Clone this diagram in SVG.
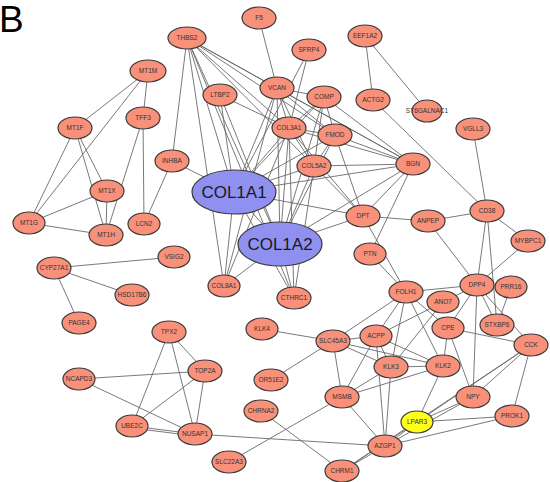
<svg xmlns="http://www.w3.org/2000/svg" width="550" height="482" viewBox="0 0 550 482">
<style>
.e line{stroke:#6a6a6a;stroke-width:0.9}
.n ellipse{fill:#F8907A;stroke:#3a3a3a;stroke-width:1.2}
.n text{font-family:"Liberation Sans",Arial,sans-serif;font-size:6.5px;fill:#333;text-anchor:middle}
.b ellipse{fill:#9090F0;stroke:#3a3a3a;stroke-width:1.2}
.b text{font-family:"Liberation Sans",Arial,sans-serif;font-size:17px;fill:#1a1a1a;text-anchor:middle}
.y ellipse{fill:#FFFF1A}
</style>
<rect width="550" height="482" fill="#fff"/>
<text x="-1" y="32" font-family="Liberation Sans,Arial,sans-serif" font-size="37" fill="#000">B</text>
<g id="connectors" class="e">
<line x1="148" y1="71" x2="75" y2="128"/>
<line x1="148" y1="71" x2="29" y2="223"/>
<line x1="148" y1="71" x2="143" y2="118"/>
<line x1="75" y1="128" x2="29" y2="223"/>
<line x1="75" y1="128" x2="107" y2="191"/>
<line x1="75" y1="128" x2="106" y2="235"/>
<line x1="143" y1="118" x2="144" y2="224"/>
<line x1="143" y1="118" x2="106" y2="235"/>
<line x1="107" y1="191" x2="29" y2="223"/>
<line x1="107" y1="191" x2="106" y2="235"/>
<line x1="29" y1="223" x2="106" y2="235"/>
<line x1="172" y1="161" x2="144" y2="224"/>
<line x1="172" y1="161" x2="187" y2="38"/>
<line x1="172" y1="161" x2="234" y2="192"/>
<line x1="54" y1="268" x2="174" y2="257"/>
<line x1="54" y1="268" x2="132" y2="295"/>
<line x1="54" y1="268" x2="79" y2="323"/>
<line x1="187" y1="38" x2="277" y2="88"/>
<line x1="187" y1="38" x2="289" y2="128"/>
<line x1="187" y1="38" x2="413" y2="164"/>
<line x1="187" y1="38" x2="335" y2="135"/>
<line x1="187" y1="38" x2="314" y2="166"/>
<line x1="187" y1="38" x2="234" y2="192"/>
<line x1="187" y1="38" x2="280" y2="244"/>
<line x1="187" y1="38" x2="294" y2="298"/>
<line x1="187" y1="38" x2="224" y2="286"/>
<line x1="259" y1="18" x2="277" y2="88"/>
<line x1="309" y1="50" x2="289" y2="128"/>
<line x1="309" y1="50" x2="234" y2="192"/>
<line x1="220" y1="95" x2="234" y2="192"/>
<line x1="220" y1="95" x2="280" y2="244"/>
<line x1="220" y1="95" x2="289" y2="128"/>
<line x1="277" y1="88" x2="289" y2="128"/>
<line x1="277" y1="88" x2="324" y2="97"/>
<line x1="277" y1="88" x2="335" y2="135"/>
<line x1="277" y1="88" x2="413" y2="164"/>
<line x1="277" y1="88" x2="314" y2="166"/>
<line x1="277" y1="88" x2="234" y2="192"/>
<line x1="277" y1="88" x2="280" y2="244"/>
<line x1="277" y1="88" x2="224" y2="286"/>
<line x1="324" y1="97" x2="289" y2="128"/>
<line x1="324" y1="97" x2="335" y2="135"/>
<line x1="324" y1="97" x2="413" y2="164"/>
<line x1="324" y1="97" x2="314" y2="166"/>
<line x1="324" y1="97" x2="234" y2="192"/>
<line x1="324" y1="97" x2="280" y2="244"/>
<line x1="289" y1="128" x2="335" y2="135"/>
<line x1="289" y1="128" x2="314" y2="166"/>
<line x1="289" y1="128" x2="413" y2="164"/>
<line x1="289" y1="128" x2="363" y2="216"/>
<line x1="289" y1="128" x2="234" y2="192"/>
<line x1="289" y1="128" x2="280" y2="244"/>
<line x1="289" y1="128" x2="294" y2="298"/>
<line x1="289" y1="128" x2="224" y2="286"/>
<line x1="335" y1="135" x2="413" y2="164"/>
<line x1="335" y1="135" x2="363" y2="216"/>
<line x1="335" y1="135" x2="314" y2="166"/>
<line x1="335" y1="135" x2="234" y2="192"/>
<line x1="335" y1="135" x2="280" y2="244"/>
<line x1="314" y1="166" x2="413" y2="164"/>
<line x1="314" y1="166" x2="363" y2="216"/>
<line x1="314" y1="166" x2="234" y2="192"/>
<line x1="314" y1="166" x2="280" y2="244"/>
<line x1="314" y1="166" x2="294" y2="298"/>
<line x1="413" y1="164" x2="363" y2="216"/>
<line x1="413" y1="164" x2="234" y2="192"/>
<line x1="413" y1="164" x2="280" y2="244"/>
<line x1="413" y1="164" x2="370" y2="254"/>
<line x1="363" y1="216" x2="234" y2="192"/>
<line x1="363" y1="216" x2="280" y2="244"/>
<line x1="363" y1="216" x2="428" y2="221"/>
<line x1="363" y1="216" x2="406" y2="292"/>
<line x1="234" y1="192" x2="280" y2="244"/>
<line x1="234" y1="192" x2="224" y2="286"/>
<line x1="234" y1="192" x2="294" y2="298"/>
<line x1="280" y1="244" x2="224" y2="286"/>
<line x1="280" y1="244" x2="294" y2="298"/>
<line x1="370" y1="254" x2="406" y2="292"/>
<line x1="365" y1="36" x2="373" y2="100"/>
<line x1="365" y1="36" x2="427" y2="111"/>
<line x1="373" y1="100" x2="487" y2="211"/>
<line x1="473" y1="129" x2="487" y2="211"/>
<line x1="487" y1="211" x2="428" y2="221"/>
<line x1="487" y1="211" x2="528" y2="241"/>
<line x1="487" y1="211" x2="477" y2="285"/>
<line x1="487" y1="211" x2="497" y2="325"/>
<line x1="428" y1="221" x2="477" y2="285"/>
<line x1="528" y1="241" x2="477" y2="285"/>
<line x1="477" y1="285" x2="406" y2="292"/>
<line x1="477" y1="285" x2="473" y2="397"/>
<line x1="477" y1="285" x2="531" y2="345"/>
<line x1="477" y1="285" x2="497" y2="325"/>
<line x1="477" y1="285" x2="448" y2="328"/>
<line x1="477" y1="285" x2="443" y2="302"/>
<line x1="511" y1="287" x2="497" y2="325"/>
<line x1="406" y1="292" x2="376" y2="336"/>
<line x1="406" y1="292" x2="391" y2="367"/>
<line x1="406" y1="292" x2="443" y2="366"/>
<line x1="406" y1="292" x2="333" y2="341"/>
<line x1="406" y1="292" x2="448" y2="328"/>
<line x1="443" y1="302" x2="391" y2="367"/>
<line x1="443" y1="302" x2="376" y2="336"/>
<line x1="448" y1="328" x2="531" y2="345"/>
<line x1="448" y1="328" x2="473" y2="397"/>
<line x1="448" y1="328" x2="443" y2="366"/>
<line x1="531" y1="345" x2="473" y2="397"/>
<line x1="531" y1="345" x2="512" y2="416"/>
<line x1="531" y1="345" x2="417" y2="422"/>
<line x1="531" y1="345" x2="342" y2="471"/>
<line x1="512" y1="416" x2="417" y2="422"/>
<line x1="512" y1="416" x2="385" y2="446"/>
<line x1="473" y1="397" x2="417" y2="422"/>
<line x1="473" y1="397" x2="385" y2="446"/>
<line x1="417" y1="422" x2="443" y2="366"/>
<line x1="417" y1="422" x2="385" y2="446"/>
<line x1="417" y1="422" x2="342" y2="471"/>
<line x1="262" y1="329" x2="333" y2="341"/>
<line x1="271" y1="380" x2="333" y2="341"/>
<line x1="333" y1="341" x2="376" y2="336"/>
<line x1="333" y1="341" x2="391" y2="367"/>
<line x1="333" y1="341" x2="443" y2="366"/>
<line x1="333" y1="341" x2="342" y2="397"/>
<line x1="376" y1="336" x2="391" y2="367"/>
<line x1="376" y1="336" x2="443" y2="366"/>
<line x1="376" y1="336" x2="342" y2="397"/>
<line x1="376" y1="336" x2="385" y2="446"/>
<line x1="391" y1="367" x2="443" y2="366"/>
<line x1="391" y1="367" x2="342" y2="397"/>
<line x1="391" y1="367" x2="385" y2="446"/>
<line x1="443" y1="366" x2="342" y2="397"/>
<line x1="342" y1="397" x2="385" y2="446"/>
<line x1="342" y1="397" x2="229" y2="462"/>
<line x1="261" y1="411" x2="342" y2="471"/>
<line x1="342" y1="471" x2="385" y2="446"/>
<line x1="169" y1="332" x2="205" y2="371"/>
<line x1="169" y1="332" x2="195" y2="434"/>
<line x1="169" y1="332" x2="132" y2="426"/>
<line x1="205" y1="371" x2="79" y2="379"/>
<line x1="205" y1="371" x2="132" y2="426"/>
<line x1="205" y1="371" x2="195" y2="434"/>
<line x1="79" y1="379" x2="195" y2="434"/>
<line x1="132" y1="426" x2="195" y2="434"/>
<line x1="132" y1="428" x2="195" y2="436"/>
<line x1="195" y1="434" x2="385" y2="446"/>
</g>
<g id="THBS2" class="n"><ellipse cx="187" cy="38" rx="19" ry="11"/><text x="187" y="40.3">THBS2</text></g>
<g id="F5" class="n"><ellipse cx="259" cy="18" rx="17" ry="11"/><text x="259" y="20.3">F5</text></g>
<g id="SFRP4" class="n"><ellipse cx="309" cy="50" rx="17" ry="11"/><text x="309" y="52.3">SFRP4</text></g>
<g id="EEF1A2" class="n"><ellipse cx="365" cy="36" rx="17" ry="11"/><text x="365" y="38.3">EEF1A2</text></g>
<g id="MT1M" class="n"><ellipse cx="148" cy="71" rx="18" ry="11"/><text x="148" y="73.3">MT1M</text></g>
<g id="LTBP2" class="n"><ellipse cx="220" cy="95" rx="17" ry="11"/><text x="220" y="97.3">LTBP2</text></g>
<g id="VCAN" class="n"><ellipse cx="277" cy="88" rx="17" ry="11"/><text x="277" y="90.3">VCAN</text></g>
<g id="COMP" class="n"><ellipse cx="324" cy="97" rx="17" ry="11"/><text x="324" y="99.3">COMP</text></g>
<g id="ACTG2" class="n"><ellipse cx="373" cy="100" rx="17" ry="11"/><text x="373" y="102.3">ACTG2</text></g>
<g id="ST6GALNAC1" class="n"><ellipse cx="427" cy="111" rx="15" ry="11"/><text x="427" y="113.3">ST6GALNAC1</text></g>
<g id="TFF3" class="n"><ellipse cx="143" cy="118" rx="17" ry="11"/><text x="143" y="120.3">TFF3</text></g>
<g id="MT1F" class="n"><ellipse cx="75" cy="128" rx="17" ry="11"/><text x="75" y="130.3">MT1F</text></g>
<g id="COL3A1" class="n"><ellipse cx="289" cy="128" rx="17" ry="11"/><text x="289" y="130.3">COL3A1</text></g>
<g id="FMOD" class="n"><ellipse cx="335" cy="135" rx="17" ry="11"/><text x="335" y="137.3">FMOD</text></g>
<g id="VGLL3" class="n"><ellipse cx="473" cy="129" rx="17" ry="11"/><text x="473" y="131.3">VGLL3</text></g>
<g id="INHBA" class="n"><ellipse cx="172" cy="161" rx="17" ry="11"/><text x="172" y="163.3">INHBA</text></g>
<g id="BGN" class="n"><ellipse cx="413" cy="164" rx="17" ry="11"/><text x="413" y="166.3">BGN</text></g>
<g id="COL5A2" class="n"><ellipse cx="314" cy="166" rx="17" ry="11"/><text x="314" y="168.3">COL5A2</text></g>
<g id="MT1X" class="n"><ellipse cx="107" cy="191" rx="17" ry="11"/><text x="107" y="193.3">MT1X</text></g>
<g id="CD38" class="n"><ellipse cx="487" cy="211" rx="17" ry="11"/><text x="487" y="213.3">CD38</text></g>
<g id="DPT" class="n"><ellipse cx="363" cy="216" rx="17" ry="11"/><text x="363" y="218.3">DPT</text></g>
<g id="ANPEP" class="n"><ellipse cx="428" cy="221" rx="17" ry="11"/><text x="428" y="223.3">ANPEP</text></g>
<g id="MT1G" class="n"><ellipse cx="29" cy="223" rx="16" ry="11"/><text x="29" y="225.3">MT1G</text></g>
<g id="LCN2" class="n"><ellipse cx="144" cy="224" rx="16" ry="11"/><text x="144" y="226.3">LCN2</text></g>
<g id="MT1H" class="n"><ellipse cx="106" cy="235" rx="17" ry="11"/><text x="106" y="237.3">MT1H</text></g>
<g id="MYBPC1" class="n"><ellipse cx="528" cy="241" rx="17" ry="11"/><text x="528" y="243.3">MYBPC1</text></g>
<g id="PTN" class="n"><ellipse cx="370" cy="254" rx="16" ry="11"/><text x="370" y="256.3">PTN</text></g>
<g id="VSIG2" class="n"><ellipse cx="174" cy="257" rx="16" ry="11"/><text x="174" y="259.3">VSIG2</text></g>
<g id="CYP27A1" class="n"><ellipse cx="54" cy="268" rx="17" ry="11"/><text x="54" y="270.3">CYP27A1</text></g>
<g id="COL8A1" class="n"><ellipse cx="224" cy="286" rx="16" ry="11"/><text x="224" y="288.3">COL8A1</text></g>
<g id="DPP4" class="n"><ellipse cx="477" cy="285" rx="17" ry="11"/><text x="477" y="287.3">DPP4</text></g>
<g id="PRR16" class="n"><ellipse cx="511" cy="287" rx="16" ry="11"/><text x="511" y="289.3">PRR16</text></g>
<g id="FOLH1" class="n"><ellipse cx="406" cy="292" rx="17" ry="11"/><text x="406" y="294.3">FOLH1</text></g>
<g id="HSD17B6" class="n"><ellipse cx="132" cy="295" rx="17" ry="11"/><text x="132" y="297.3">HSD17B6</text></g>
<g id="CTHRC1" class="n"><ellipse cx="294" cy="298" rx="17" ry="11"/><text x="294" y="300.3">CTHRC1</text></g>
<g id="ANO7" class="n"><ellipse cx="443" cy="302" rx="16" ry="11"/><text x="443" y="304.3">ANO7</text></g>
<g id="PAGE4" class="n"><ellipse cx="79" cy="323" rx="17" ry="11"/><text x="79" y="325.3">PAGE4</text></g>
<g id="STXBP6" class="n"><ellipse cx="497" cy="325" rx="17" ry="11"/><text x="497" y="327.3">STXBP6</text></g>
<g id="CPE" class="n"><ellipse cx="448" cy="328" rx="16" ry="11"/><text x="448" y="330.3">CPE</text></g>
<g id="KLK4" class="n"><ellipse cx="262" cy="329" rx="16" ry="11"/><text x="262" y="331.3">KLK4</text></g>
<g id="TPX2" class="n"><ellipse cx="169" cy="332" rx="17" ry="11"/><text x="169" y="334.3">TPX2</text></g>
<g id="ACPP" class="n"><ellipse cx="376" cy="336" rx="16" ry="11"/><text x="376" y="338.3">ACPP</text></g>
<g id="SLC45A3" class="n"><ellipse cx="333" cy="341" rx="17" ry="11"/><text x="333" y="343.3">SLC45A3</text></g>
<g id="CCK" class="n"><ellipse cx="531" cy="345" rx="17" ry="11"/><text x="531" y="347.3">CCK</text></g>
<g id="KLK3" class="n"><ellipse cx="391" cy="367" rx="17" ry="11"/><text x="391" y="369.3">KLK3</text></g>
<g id="KLK2" class="n"><ellipse cx="443" cy="366" rx="17" ry="11"/><text x="443" y="368.3">KLK2</text></g>
<g id="TOP2A" class="n"><ellipse cx="205" cy="371" rx="17" ry="11"/><text x="205" y="373.3">TOP2A</text></g>
<g id="NCAPD3" class="n"><ellipse cx="79" cy="379" rx="16" ry="11"/><text x="79" y="381.3">NCAPD3</text></g>
<g id="OR51E2" class="n"><ellipse cx="271" cy="380" rx="17" ry="11"/><text x="271" y="382.3">OR51E2</text></g>
<g id="MSMB" class="n"><ellipse cx="342" cy="397" rx="17" ry="11"/><text x="342" y="399.3">MSMB</text></g>
<g id="NPY" class="n"><ellipse cx="473" cy="397" rx="17" ry="11"/><text x="473" y="399.3">NPY</text></g>
<g id="CHRNA2" class="n"><ellipse cx="261" cy="411" rx="17" ry="11"/><text x="261" y="413.3">CHRNA2</text></g>
<g id="PROK1" class="n"><ellipse cx="512" cy="416" rx="17" ry="11"/><text x="512" y="418.3">PROK1</text></g>
<g id="LPAR3" class="n y"><ellipse cx="417" cy="422" rx="16" ry="11"/><text x="417" y="424.3">LPAR3</text></g>
<g id="UBE2C" class="n"><ellipse cx="132" cy="426" rx="16" ry="11"/><text x="132" y="428.3">UBE2C</text></g>
<g id="NUSAP1" class="n"><ellipse cx="195" cy="434" rx="17" ry="11"/><text x="195" y="436.3">NUSAP1</text></g>
<g id="AZGP1" class="n"><ellipse cx="385" cy="446" rx="17" ry="11"/><text x="385" y="448.3">AZGP1</text></g>
<g id="SLC22A3" class="n"><ellipse cx="229" cy="462" rx="17" ry="11"/><text x="229" y="464.3">SLC22A3</text></g>
<g id="CHRM1" class="n"><ellipse cx="342" cy="471" rx="17" ry="11"/><text x="342" y="473.3">CHRM1</text></g>
<g id="COL1A1" class="b"><ellipse cx="234" cy="192" rx="42" ry="22"/><text x="234" y="198">COL1A1</text></g>
<g id="COL1A2" class="b"><ellipse cx="280" cy="244" rx="42" ry="22"/><text x="280" y="250">COL1A2</text></g>
</svg>
